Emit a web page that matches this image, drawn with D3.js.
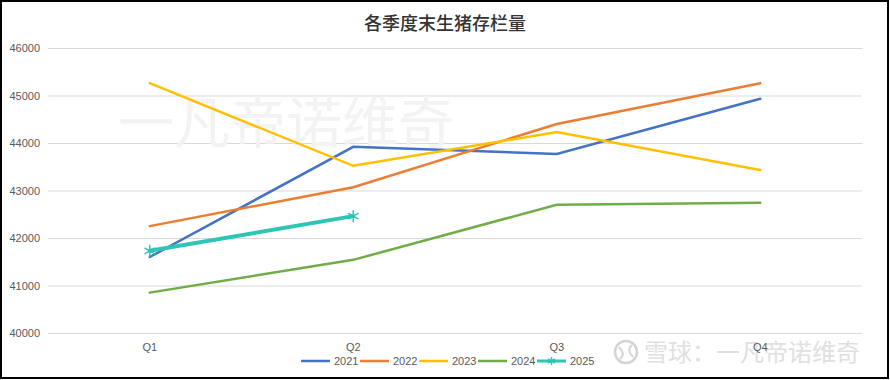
<!DOCTYPE html>
<html>
<head>
<meta charset="utf-8">
<script src="https://cdn.jsdelivr.net/npm/d3@7"></script>
<style>
  body { margin: 0; background: #fff; }
  svg { display: block; }
</style>
</head>
<body>
<div id="chart"></div>
<script>
// Data
var quarters = ["Q1", "Q2", "Q3", "Q4"];
var years = ["2021", "2022", "2023", "2024", "2025"];
var v2021 = [41600, 43920, 43770, 44930];
var v2022 = [42250, 43070, 44400, 45260];
var v2023 = [45260, 43520, 44230, 43430];
var v2024 = [40850, 41540, 42700, 42740];
var v2025 = [41730, 42460];
var yTicks = [40000, 41000, 42000, 43000, 44000, 45000, 46000];
var colors = ["#4472c4", "#ed7d31", "#ffc000", "#70ad47", "#2ec4b6"];

var series = [v2021, v2022, v2023, v2024, v2025].map(function(v, i) {
  return { name: years[i], color: colors[i], values: v };
});

var W = 890, H = 380;
var margin = {top: 48, right: 28, bottom: 47, left: 48};
var width = W - margin.left - margin.right,
    height = H - margin.top - margin.bottom;

var svg = d3.select("#chart").append("svg")
  .attr("width", W).attr("height", H);

// frame
svg.append("rect")
  .attr("x", 1).attr("y", 1).attr("width", W - 3).attr("height", H - 3)
  .attr("fill", "#fff").attr("stroke", "#000").attr("stroke-width", 2);

// bottom-right watermark (drawn first, labels sit on top)
var wm = svg.append("g").attr("transform", "translate(612,352)");
wm.append("circle").attr("cx", 14).attr("cy", 0).attr("r", 11)
  .attr("fill", "none").attr("stroke", "#d4d4d4").attr("stroke-width", 2.5);
wm.append("path")
  .attr("d", "M7,-5 Q14,2 8,7 M21,5 Q14,-2 20,-7")
  .attr("fill", "none").attr("stroke", "#d4d4d4").attr("stroke-width", 2);
wm.append("text")
  .attr("x", 32).attr("y", 9)
  .style("font-family", "'Noto Sans CJK SC', sans-serif")
  .style("font-size", "24px")
  .attr("fill", "#e0e0e0")
  .text("雪球：一凡帝诺维奇");

// title
svg.append("text")
  .attr("x", W / 2).attr("y", 30)
  .attr("text-anchor", "middle")
  .style("font-family", "'Noto Sans CJK SC', sans-serif")
  .style("font-size", "18px")
  .style("font-weight", "500")
  .attr("fill", "#333")
  .text("各季度末生猪存栏量");

var g = svg.append("g")
  .attr("transform", "translate(" + margin.left + "," + margin.top + ")");

var x = d3.scaleBand().domain(quarters).range([0, width]);
var y = d3.scaleLinear().domain([40000, 46000]).range([height, 0]);

// gridlines + y labels
g.append("g")
  .call(d3.axisLeft(y).tickValues(yTicks).tickSize(-width).tickPadding(8)
    .tickFormat(d3.format("d")))
  .call(function(a) { a.select(".domain").remove(); })
  .call(function(a) { a.selectAll(".tick line").attr("stroke", "#d9d9d9"); })
  .call(function(a) {
    a.selectAll(".tick text")
      .attr("fill", "#595959")
      .style("font-family", "'Liberation Sans', Arial, sans-serif")
      .style("font-size", "11px");
  });

// watermark
g.append("text")
  .attr("x", 70).attr("y", 95)
  .style("font-family", "'Noto Sans CJK SC', sans-serif")
  .style("font-size", "56px")
  .attr("fill", "#f3f3f3")
  .text("一凡帝诺维奇");

// x labels
g.append("g")
  .attr("transform", "translate(0," + height + ")")
  .call(d3.axisBottom(x).tickSize(0).tickPadding(10))
  .call(function(a) { a.select(".domain").remove(); })
  .call(function(a) {
    a.selectAll(".tick text")
      .attr("fill", "#595959")
      .style("font-family", "'Liberation Sans', Arial, sans-serif")
      .style("font-size", "11px");
  });

var line = d3.line()
  .x(function(d, i) { return x(quarters[i]) + x.bandwidth() / 2; })
  .y(function(d) { return y(d); });

series.forEach(function(s, k) {
  g.append("path")
    .datum(s.values)
    .attr("fill", "none")
    .attr("stroke", s.color)
    .attr("stroke-width", k === 4 ? 4 : 2.5)
    .attr("stroke-linecap", "round")
    .attr("d", line);
});

// asterisk markers for 2025
function star(sel, cx, cy, r, color) {
  [0, 60, 120].forEach(function(a) {
    var rad = a * Math.PI / 180;
    sel.append("line")
      .attr("x1", cx - r * Math.sin(rad)).attr("y1", cy - r * Math.cos(rad))
      .attr("x2", cx + r * Math.sin(rad)).attr("y2", cy + r * Math.cos(rad))
      .attr("stroke", color).attr("stroke-width", 1.5);
  });
}
v2025.forEach(function(v, i) {
  star(g, x(quarters[i]) + x.bandwidth() / 2, y(v), 6, colors[4]);
});

// legend
var legend = svg.append("g").attr("transform", "translate(301,361)");
var lx = 0;
series.forEach(function(s, k) {
  var item = legend.append("g").attr("transform", "translate(" + lx + ",0)");
  item.append("line")
    .attr("x1", 0).attr("x2", 29).attr("y1", 0).attr("y2", 0)
    .attr("stroke", s.color).attr("stroke-width", k === 4 ? 3 : 2.5);
  if (k === 4) star(item, 14.5, 0, 4, s.color);
  item.append("text")
    .attr("x", 33).attr("y", 4)
    .attr("fill", "#595959")
    .style("font-family", "'Liberation Sans', Arial, sans-serif")
    .style("font-size", "11px")
    .text(s.name);
  lx += 59;
});
</script>
</body>
</html>
